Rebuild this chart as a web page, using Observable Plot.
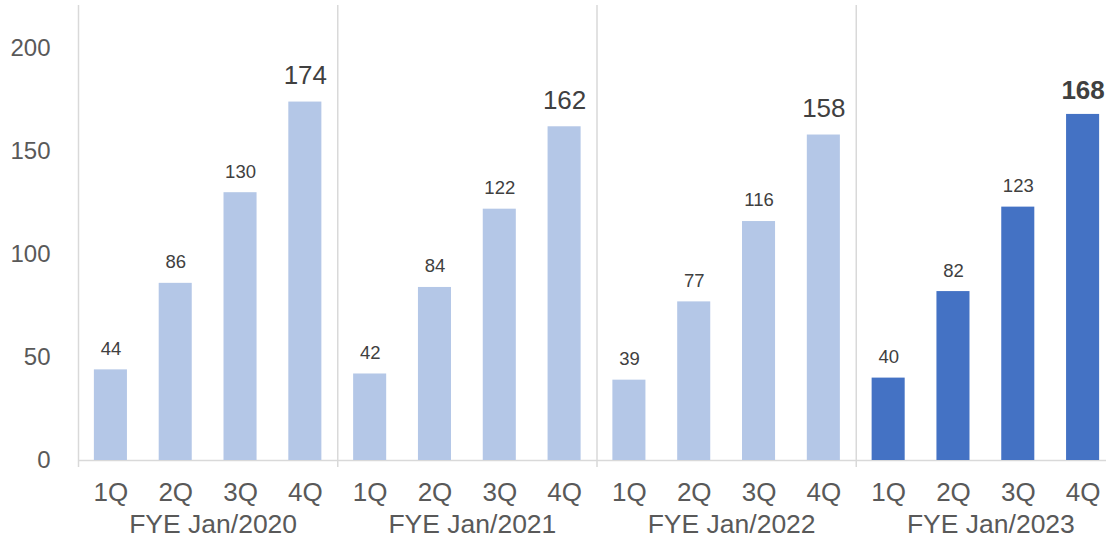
<!DOCTYPE html>
<html>
<head>
<meta charset="utf-8">
<script src="https://cdn.jsdelivr.net/npm/d3@7"></script>
<script src="https://cdn.jsdelivr.net/npm/@observablehq/plot@0.6"></script>
<style>
  html, body { margin: 0; padding: 0; background: #ffffff; }
</style>
</head>
<body>
<div id="chart"></div>
<script>
// ---- data ----
const years = [2020, 2021, 2022, 2023];
const quarters = ["1Q", "2Q", "3Q", "4Q"];
const fye2020 = [44, 86, 130, 174];
const fye2021 = [42, 84, 122, 162];
const fye2022 = [39, 77, 116, 158];
const fye2023 = [40, 82, 123, 168];
const yTicks = [0, 50, 100, 150, 200];
const groupLabelPrefix = "FYE Jan/";
const highlightYear = 2023;

const seriesByYear = [fye2020, fye2021, fye2022, fye2023];
const rows = years.flatMap((yr, i) =>
  seriesByYear[i].map((v, j) => ({
    year: yr,
    quarter: quarters[j],
    key: `${yr}|${quarters[j]}`,
    value: v
  }))
);
const keys = rows.map(d => d.key);

const xRange = [78, 1115];
const step = (xRange[1] - xRange[0]) / keys.length;

const light = "#b4c7e7";
const dark = "#4472c4";
const grid = "#d9d9d9";
const axisText = "#595959";
const labelText = "#404040";

const chart = Plot.plot({
  width: 1106,
  height: 539,
  marginLeft: 78,
  marginRight: 0,
  marginTop: 5,
  marginBottom: 79,
  style: { fontFamily: "Arial, 'Liberation Sans', sans-serif", background: "#ffffff" },
  x: { domain: keys, range: xRange, round: false, paddingInner: 0.49, paddingOuter: 0.245, axis: null },
  y: { domain: [0, 200], range: [460, 48], axis: null },
  marks: [
    Plot.ruleX(years, { x: d => `${d}|1Q`, dx: -step / 2, stroke: grid, strokeWidth: 1.5, insetBottom: -7 }),
    Plot.ruleY([0], { stroke: grid, strokeWidth: 1.5 }),
    Plot.barY(rows.filter(d => d.year !== highlightYear), { x: "key", y: "value", fill: light }),
    Plot.barY(rows.filter(d => d.year === highlightYear), { x: "key", y: "value", fill: dark }),
    Plot.text(rows.filter(d => d.quarter !== "4Q"), {
      x: "key", y: "value", text: d => String(d.value), dy: -21, fontSize: 18.5, fill: labelText
    }),
    Plot.text(rows.filter(d => d.quarter === "4Q" && d.year !== highlightYear), {
      x: "key", y: "value", text: d => String(d.value), dy: -26, fontSize: 26, fill: labelText
    }),
    Plot.text(rows.filter(d => d.quarter === "4Q" && d.year === highlightYear), {
      x: "key", y: "value", text: d => String(d.value), dy: -24, fontSize: 26, fontWeight: "bold", fill: labelText
    }),
    Plot.axisY({ ticks: yTicks, tickSize: 0, tickPadding: 28, fontSize: 24, color: axisText, label: null }),
    Plot.axisX({ tickFormat: d => d.split("|")[1], tickSize: 0, tickPadding: 22, fontSize: 26, color: axisText, label: null }),
    Plot.text(years, {
      x: d => `${d}|2Q`, dx: step / 2 + 5, frameAnchor: "bottom", lineAnchor: "top", dy: 54,
      text: d => groupLabelPrefix + d, fontSize: 26.5, fill: axisText
    })
  ]
});

document.getElementById("chart").appendChild(chart);
</script>
</body>
</html>
